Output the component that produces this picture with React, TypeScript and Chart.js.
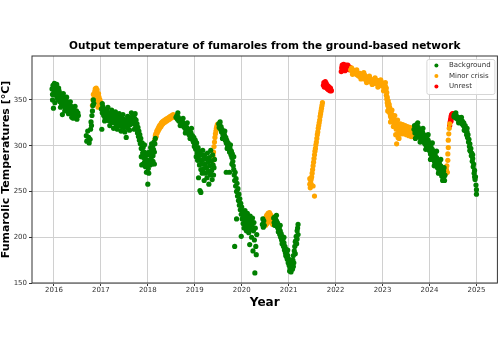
import React, { useEffect, useRef } from "react";
import { Chart, registerables } from "chart.js";

Chart.register(...registerables);

const chartTitle = "Output temperature of fumaroles from the ground-based network";
const xTitle = "Year";
const yTitle = "Fumarolic Temperatures [°C]";
const seriesNames = ["Background", "Minor crisis", "Unrest"];
const seriesColors = ["#008000", "#ffa500", "#ff0000"];
const yearTicks = [2016, 2017, 2018, 2019, 2020, 2021, 2022, 2023, 2024, 2025];
const tempTicks = [150, 200, 250, 300, 350];

// [decimal year, temperature °C]
const background: [number, number][] = [
  [2015.96,362],[2015.97,356],[2015.98,366],[2015.99,341],[2016.0,360],[2016.01,368],[2016.02,358],[2016.03,364],[2016.04,355],[2016.05,366],
  [2016.06,360],[2016.07,352],[2016.08,362],[2016.09,357],[2016.1,350],[2016.11,360],[2016.12,354],[2016.13,348],[2016.14,357],[2016.15,351],
  [2016.16,346],[2016.17,355],[2016.18,334],[2016.19,349],[2016.2,344],[2016.21,353],[2016.22,347],[2016.24,342],[2016.25,350],[2016.26,345],
  [2016.28,340],[2016.29,348],[2016.3,343],[2016.32,338],[2016.33,345],[2016.34,340],[2016.36,336],[2016.37,343],[2016.38,331],[2016.39,338],
  [2016.4,334],[2016.42,340],[2016.43,336],[2016.44,332],[2016.46,337],[2016.47,333],[2016.48,338],[2016.5,334],[2016.51,336],[2016.52,333],
  [2015.97,350],[2016.02,347],[2016.06,367],[2016.1,363],[2016.14,342],[2016.2,357],[2016.23,338],[2016.27,353],[2016.31,335],[2016.35,348],
  [2016.41,330],[2016.45,343],[2016.49,329],
  [2016.69,311],[2016.7,305],[2016.72,316],[2016.74,309],[2016.75,303],[2016.77,307],[2016.78,318],[2016.79,326],[2016.8,322],[2016.81,333],
  [2016.82,338],[2016.83,344],[2016.84,350],[2016.85,346],
  [2017.01,340],[2017.02,318],[2017.03,336],[2017.04,343],[2017.05,338],[2017.06,333],[2017.07,340],[2017.08,335],[2017.09,330],[2017.1,337],
  [2017.11,332],[2017.12,339],[2017.13,328],[2017.14,334],[2017.16,330],[2017.17,336],[2017.18,327],[2017.2,333],[2017.21,329],[2017.22,335],
  [2017.24,326],[2017.25,331],[2017.26,334],[2017.28,325],[2017.29,330],[2017.3,327],[2017.32,333],[2017.33,323],[2017.34,329],[2017.36,325],
  [2017.37,331],[2017.38,322],[2017.4,328],[2017.41,324],[2017.42,330],[2017.44,321],[2017.45,327],[2017.46,323],[2017.48,329],[2017.49,320],
  [2017.5,326],[2017.52,322],[2017.53,328],[2017.54,309],[2017.55,324],[2017.56,320],[2017.58,326],[2017.59,322],[2017.6,328],[2017.62,323],
  [2017.63,329],[2017.64,325],[2017.66,331],[2017.67,327],[2017.68,333],[2017.69,328],[2017.7,324],[2017.72,330],[2017.73,326],[2017.74,322],
  [2017.75,328],[2017.76,318],[2017.77,324],[2017.78,314],[2017.79,320],[2017.8,310],[2017.81,316],[2017.82,306],[2017.83,312],[2017.84,302],
  [2017.85,308],[2017.86,297],[2017.87,279],[2017.88,303],[2017.89,292],[2017.9,298],[2017.91,287],[2017.92,293],[2017.93,282],[2017.94,289],
  [2017.95,277],[2017.96,285],[2017.97,271],[2017.98,280],[2017.99,290],[2018.0,258],[2018.01,275],[2018.02,284],[2018.03,293],[2018.04,281],
  [2018.05,290],[2018.06,298],[2018.07,286],[2018.08,294],[2018.09,280],[2018.1,300],[2018.11,289],[2018.12,296],[2018.13,304],[2018.14,280],
  [2018.14,293],[2018.15,302],[2018.16,308],
  [2017.03,346],[2017.08,327],[2017.15,342],[2017.19,322],[2017.23,339],[2017.27,319],[2017.31,337],[2017.35,318],[2017.39,335],[2017.43,316],
  [2017.47,334],[2017.51,315],[2017.57,332],[2017.61,317],[2017.65,336],[2017.71,318],[2017.73,335],[2017.86,288],[2017.9,280],[2017.93,301],
  [2017.97,292],[2018.02,270],[2018.05,279],[2018.08,302],[2018.11,283],
  [2018.6,331],[2018.62,333],[2018.63,329],[2018.65,331],[2018.66,327],[2018.68,329],[2018.7,325],[2018.71,328],[2018.73,323],[2018.74,326],
  [2018.76,321],[2018.77,324],[2018.79,319],[2018.8,322],[2018.82,317],[2018.83,320],[2018.85,315],[2018.86,318],[2018.88,312],[2018.89,316],
  [2018.91,310],[2018.92,314],[2018.94,307],[2018.95,311],[2018.97,304],[2018.98,309],[2019.0,301],[2019.01,306],[2019.02,296],[2019.03,288],
  [2018.64,336],[2018.69,322],[2018.75,330],[2018.8,314],[2018.84,325],[2018.9,308],[2018.93,319],[2018.99,299],
  [2019.04,303],[2019.05,292],[2019.06,284],[2019.07,298],[2019.08,265],[2019.09,289],[2019.1,279],[2019.11,251],[2019.11,294],[2019.12,284],
  [2019.13,249],[2019.13,274],[2019.14,290],[2019.15,280],[2019.16,270],[2019.17,295],[2019.18,285],[2019.19,275],[2019.2,262],[2019.21,290],
  [2019.22,280],[2019.23,270],[2019.24,286],[2019.25,276],[2019.26,265],[2019.27,292],[2019.28,282],[2019.29,272],[2019.3,258],[2019.31,287],
  [2019.32,278],[2019.33,268],[2019.34,295],[2019.35,283],[2019.36,273],[2019.37,263],[2019.38,290],[2019.39,279],[2019.4,268],[2019.41,276],
  [2019.42,285],
  [2019.51,324],[2019.52,320],[2019.53,322],[2019.55,318],[2019.56,321],[2019.57,315],[2019.58,318],[2019.6,312],[2019.61,315],[2019.62,309],
  [2019.63,312],[2019.65,306],[2019.66,309],[2019.67,271],[2019.67,303],[2019.68,306],[2019.7,300],[2019.71,303],[2019.72,297],[2019.73,300],
  [2019.74,271],[2019.74,293],[2019.75,297],[2019.77,290],[2019.78,294],[2019.79,287],[2019.8,291],[2019.81,283],[2019.82,278],[2019.83,274],
  [2019.54,326],[2019.59,308],[2019.64,316],[2019.69,297],[2019.76,301],[2019.79,280],[2019.83,288],
  [2019.84,268],[2019.85,190],[2019.85,262],[2019.86,271],[2019.87,256],[2019.88,264],[2019.89,220],[2019.89,250],[2019.9,259],[2019.91,245],
  [2019.92,253],[2019.93,240],[2019.94,247],[2019.95,235],[2019.96,242],[2019.97,230],[2019.98,237],[2019.99,201],[2019.99,225],[2020.0,233],
  [2020.01,220],[2020.02,228],[2020.03,215],[2020.04,224],[2020.05,210],[2020.06,219],[2020.07,229],[2020.08,214],[2020.09,222],[2020.1,207],
  [2020.11,218],[2020.12,226],[2020.13,211],[2020.14,220],[2020.15,205],[2020.16,215],[2020.17,192],[2020.18,223],[2020.19,209],[2020.2,218],
  [2020.21,200],[2020.22,213],[2020.23,221],[2020.24,185],[2020.25,207],[2020.26,216],[2020.27,197],[2020.28,161],[2020.29,210],[2020.3,190],
  [2020.31,181],[2020.32,203],
  [2020.44,214],[2020.45,220],[2020.46,211],[2020.47,218],[2020.48,213],
  [2020.68,221],[2020.69,216],[2020.7,222],[2020.71,217],[2020.72,220],[2020.73,214],[2020.74,218],[2020.75,212],[2020.76,216],[2020.77,210],
  [2020.78,213],[2020.79,206],[2020.8,210],[2020.81,203],[2020.82,207],[2020.83,200],[2020.84,204],[2020.85,197],[2020.86,201],[2020.87,194],
  [2020.88,198],[2020.89,190],[2020.9,194],[2020.91,186],[2020.92,190],[2020.93,183],[2020.94,187],[2020.95,179],[2020.96,183],[2020.97,176],
  [2020.98,180],[2020.99,172],[2021.0,176],[2021.01,169],[2021.02,173],[2021.03,166],[2021.04,170],[2021.05,162],[2021.06,167],[2021.07,171],
  [2021.08,165],[2021.09,175],[2021.1,180],[2021.11,172],[2021.12,185],[2021.13,190],[2021.14,182],[2021.15,196],[2021.16,201],[2021.17,193],
  [2021.18,207],[2021.19,210],[2021.2,214],[2021.2,203],
  [2020.7,213],[2020.74,224],[2020.78,206],[2020.82,213],[2020.86,193],[2020.9,200],[2020.94,180],[2020.98,186],[2021.02,163],[2021.06,175],
  [2021.1,168],[2021.14,195],[2021.18,198],
  [2023.67,318],[2023.68,322],[2023.69,314],[2023.7,320],[2023.71,316],[2023.72,323],[2023.73,312],[2023.74,318],[2023.75,314],[2023.76,320],
  [2023.77,310],[2023.78,316],[2023.79,312],[2023.8,318],[2023.81,308],[2023.82,314],[2023.83,310],[2023.84,305],[2023.85,315],[2023.86,309],
  [2023.87,304],[2023.88,312],[2023.89,307],[2023.9,302],[2023.91,310],[2023.92,305],[2023.93,300],[2023.94,308],[2023.95,303],[2023.96,298],
  [2023.97,306],[2023.98,301],[2023.99,295],[2024.0,303],[2024.01,297],[2024.02,291],[2024.03,299],[2024.04,294],[2024.05,288],[2024.06,296],
  [2024.07,290],[2024.08,285],[2024.09,293],[2024.1,287],[2024.11,282],[2024.12,290],[2024.13,284],[2024.14,279],[2024.15,287],[2024.16,281],
  [2024.17,276],[2024.18,284],[2024.19,278],[2024.2,273],[2024.21,281],[2024.22,275],[2024.23,270],[2024.24,278],[2024.25,272],[2024.26,267],
  [2024.27,275],[2024.28,269],[2024.29,264],[2024.3,272],[2024.31,266],[2024.32,262],[2024.33,268],
  [2023.7,308],[2023.75,325],[2023.8,304],[2023.86,319],[2023.92,296],[2023.97,312],[2024.02,285],[2024.06,303],[2024.1,278],[2024.15,294],
  [2024.19,270],[2024.24,285],[2024.28,262],[2024.31,276],
  [2024.52,332],[2024.53,334],[2024.54,331],[2024.55,333],[2024.57,330],[2024.58,332],[2024.6,329],[2024.61,331],[2024.63,327],[2024.64,330],
  [2024.66,326],[2024.67,328],[2024.69,324],[2024.7,327],[2024.72,322],[2024.73,325],[2024.75,320],[2024.76,322],[2024.77,316],[2024.78,319],
  [2024.79,312],[2024.8,315],[2024.81,309],[2024.82,312],[2024.83,304],[2024.84,307],[2024.85,299],[2024.86,302],[2024.87,294],[2024.88,297],
  [2024.89,289],[2024.9,292],[2024.91,283],[2024.92,286],[2024.93,277],[2024.94,280],[2024.95,270],[2024.96,273],[2024.97,263],[2024.98,266],
  [2024.99,257],[2025.0,252],[2025.0,247],
  [2024.56,336],[2024.62,325],[2024.68,331],[2024.74,317],[2024.8,319],[2024.86,295],[2024.92,290],[2024.96,266]
];

const minorCrisis: [number, number][] = [
  [2016.82,344],[2016.83,350],[2016.84,356],[2016.85,345],[2016.86,352],[2016.87,359],[2016.88,362],[2016.89,348],[2016.9,363],[2016.91,356],
  [2016.92,361],[2016.93,350],[2016.94,342],[2016.95,357],[2016.96,353],[2016.97,346],[2016.98,350],[2016.99,343],[2017.0,347],[2017.01,344],
  [2018.15,307],[2018.16,311],[2018.17,313],[2018.18,310],[2018.19,316],[2018.2,314],[2018.21,318],[2018.22,316],[2018.23,320],[2018.24,318],
  [2018.25,322],[2018.26,320],[2018.27,323],[2018.28,321],[2018.29,325],[2018.3,323],[2018.31,326],[2018.32,324],[2018.33,327],[2018.34,325],
  [2018.36,328],[2018.37,326],[2018.39,329],[2018.4,327],[2018.42,330],[2018.43,328],[2018.45,331],[2018.46,329],[2018.48,332],[2018.49,330],
  [2018.51,333],[2018.52,331],[2018.54,334],[2018.55,332],[2018.57,333],[2018.58,331],
  [2019.38,284],[2019.39,289],[2019.4,293],[2019.41,299],[2019.42,304],[2019.43,309],[2019.44,313],[2019.45,316],[2019.46,319],[2019.47,321],
  [2019.48,323],[2019.49,322],[2019.5,324],
  [2020.49,216],[2020.5,221],[2020.51,213],[2020.52,219],[2020.53,224],[2020.54,215],[2020.55,221],[2020.56,226],[2020.57,217],[2020.58,223],
  [2020.59,227],[2020.6,220],[2020.61,225],[2020.62,218],[2020.63,223],[2020.64,216],[2020.65,221],[2020.66,214],[2020.67,219],
  [2021.45,264],[2021.45,258],[2021.46,254],[2021.47,262],[2021.48,264],[2021.48,258],[2021.49,266],[2021.5,270],[2021.51,274],[2021.52,278],
  [2021.52,256],[2021.53,282],[2021.54,286],[2021.55,245],[2021.55,290],[2021.56,294],[2021.57,297],[2021.58,301],[2021.59,304],[2021.6,308],
  [2021.61,312],[2021.62,315],[2021.63,319],[2021.64,322],[2021.65,325],[2021.66,328],[2021.67,332],[2021.68,335],[2021.69,338],[2021.7,341],
  [2021.71,344],[2021.72,347],
  [2022.32,383],[2022.34,385],[2022.35,381],[2022.37,383],[2022.38,380],[2022.4,382],[2022.41,379],[2022.43,381],[2022.44,378],[2022.46,380],
  [2022.47,377],[2022.49,379],[2022.5,376],[2022.52,379],[2022.53,375],[2022.55,378],[2022.56,374],[2022.58,377],[2022.59,376],[2022.61,373],
  [2022.62,377],[2022.64,374],[2022.65,372],[2022.67,375],[2022.68,371],[2022.7,374],[2022.71,372],[2022.73,370],[2022.74,373],[2022.76,371],
  [2022.77,369],[2022.79,372],[2022.8,370],[2022.82,368],[2022.83,371],[2022.85,369],[2022.86,372],[2022.88,368],[2022.89,370],[2022.91,367],
  [2022.92,371],[2022.94,369],[2022.95,366],[2022.97,370],[2022.98,367],[2023.0,365],[2023.01,368],[2023.03,364],[2023.04,367],[2023.05,362],
  [2023.06,365],[2023.07,360],[2023.08,363],
  [2022.36,378],[2022.45,383],[2022.54,373],[2022.6,380],[2022.66,369],[2022.72,376],[2022.78,367],[2022.84,374],[2022.9,364],[2022.96,372],
  [2023.02,360],[2023.06,369],
  [2023.08,355],[2023.09,351],[2023.1,347],[2023.1,353],[2023.11,344],[2023.12,349],[2023.13,340],[2023.13,346],[2023.14,337],[2023.15,342],
  [2023.16,335],[2023.16,339],[2023.17,332],[2023.18,336],[2023.19,330],[2023.2,334],[2023.21,328],[2023.22,332],[2023.23,326],[2023.24,330],
  [2023.25,324],[2023.26,328],[2023.27,322],[2023.28,326],[2023.29,318],[2023.3,302],[2023.3,324],[2023.31,312],[2023.32,320],[2023.33,309],
  [2023.09,358],[2023.11,338],[2023.14,345],[2023.17,326],[2023.2,339],[2023.23,321],[2023.26,333],[2023.28,312],[2023.32,328],[2023.35,308],
  [2023.34,317],[2023.35,322],[2023.36,314],[2023.37,319],[2023.38,324],[2023.39,316],[2023.4,321],[2023.41,313],[2023.42,318],[2023.43,323],
  [2023.44,315],[2023.45,320],[2023.46,313],[2023.47,318],[2023.48,322],[2023.49,315],[2023.5,319],[2023.51,312],[2023.52,317],[2023.53,321],
  [2023.54,314],[2023.55,318],[2023.56,311],[2023.57,316],[2023.58,320],[2023.59,313],[2023.6,317],[2023.61,310],[2023.62,315],[2023.63,319],
  [2023.64,312],[2023.65,316],[2023.66,310],[2023.67,314],
  [2024.33,272],[2024.34,276],[2024.35,270],[2024.36,274],[2024.37,278],[2024.38,271],[2024.39,284],[2024.39,291],[2024.4,298],[2024.4,306],
  [2024.41,313],[2024.42,319],[2024.43,324]
];

const unrest: [number, number][] = [
  [2021.74,366],[2021.75,369],[2021.76,364],[2021.77,367],[2021.78,370],[2021.79,365],[2021.8,368],[2021.81,363],[2021.82,366],[2021.83,362],
  [2021.84,365],[2021.85,361],[2021.86,364],[2021.87,362],[2021.88,360],[2021.89,363],[2021.9,361],[2021.91,360],
  [2022.12,381],[2022.13,385],[2022.14,388],[2022.15,383],[2022.16,386],[2022.17,389],[2022.18,384],[2022.19,387],[2022.2,382],[2022.21,386],
  [2022.22,388],[2022.23,384],[2022.24,387],[2022.25,385],[2022.26,388],[2022.27,384],[2022.28,386],[2022.29,383],[2022.3,386],[2022.31,384],
  [2024.43,322],[2024.44,326],[2024.45,329],[2024.46,332],[2024.46,327],[2024.47,334],[2024.48,331],[2024.49,335],[2024.5,333],[2024.51,335]
];

const FONT = "DejaVu Sans";

const framePlugin = {
  id: "frame",
  afterDatasetsDraw(chart: any) {
    const { ctx, chartArea } = chart;
    ctx.save();
    ctx.strokeStyle = "#333";
    ctx.lineWidth = 1;
    ctx.strokeRect(chartArea.left, chartArea.top, chartArea.right - chartArea.left, chartArea.bottom - chartArea.top);
    ctx.restore();
  },
};

const legendPlugin = {
  id: "insideLegend",
  afterDraw(chart: any) {
    const { ctx, chartArea } = chart;
    const w = 68, h = 35;
    const left = chartArea.right - 3 - w;
    const top = chartArea.top + 3;
    ctx.save();
    ctx.beginPath();
    (ctx as any).roundRect(left + 0.5, top + 0.5, w, h, 2);
    ctx.fillStyle = "rgba(255,255,255,0.85)";
    ctx.fill();
    ctx.strokeStyle = "#d6d6d6";
    ctx.lineWidth = 1;
    ctx.stroke();
    ctx.font = `7px "${FONT}"`;
    ctx.textBaseline = "middle";
    ctx.textAlign = "left";
    seriesNames.forEach((name, i) => {
      const cy = top + 6.5 + i * 10.5;
      ctx.beginPath();
      ctx.arc(left + 10, cy, 2, 0, Math.PI * 2);
      ctx.fillStyle = seriesColors[i];
      ctx.fill();
      ctx.fillStyle = "#333";
      ctx.fillText(name, left + 22.5, cy);
    });
    ctx.restore();
  },
};

export default function App() {
  const ref = useRef<HTMLCanvasElement | null>(null);
  useEffect(() => {
    if (!ref.current) return;
    const series = [background, minorCrisis, unrest];
    const chart = new Chart(ref.current, {
      type: "scatter",
      data: {
        datasets: series.map((s, i) => ({
          label: seriesNames[i],
          data: s.map(([x, y]) => ({ x, y })),
          backgroundColor: seriesColors[i],
          borderColor: seriesColors[i],
          borderWidth: 0,
          pointRadius: 2.6,
          pointHoverRadius: 2.6,
        })),
      },
      options: {
        responsive: false,
        animation: false,
        events: [],
        layout: { padding: { left: 0, right: 0.5, top: 40.4, bottom: 36 } },
        plugins: {
          legend: { display: false },
          tooltip: { enabled: false },
          title: {
            display: true,
            text: chartTitle,
            fullSize: false,
            color: "#000",
            font: { family: FONT, size: 10.5, weight: "bold" },
            padding: { top: 0, bottom: 3 },
          },
        },
        scales: {
          x: {
            type: "linear",
            min: 2015.533,
            max: 2025.446,
            afterBuildTicks: (s: any) => { s.ticks = yearTicks.map((v) => ({ value: v })); },
            afterFit: (s: any) => { s.height = 31; },
            ticks: {
              autoSkip: false,
              maxRotation: 0,
              padding: 0,
              color: "#333",
              font: { family: FONT, size: 7 },
              callback: (v: any) => String(v),
            },
            grid: { color: "#d0d0d0", lineWidth: 1, tickLength: 3, tickColor: "#333" },
            border: { display: false },
            title: {
              display: true,
              text: xTitle,
              color: "#000",
              font: { family: FONT, size: 12, weight: "bold" },
              padding: { top: 0, bottom: 4 },
            },
          },
          y: {
            type: "linear",
            min: 150,
            max: 398,
            afterBuildTicks: (s: any) => { s.ticks = tempTicks.map((v) => ({ value: v })); },
            afterFit: (s: any) => { s.width = 32; },
            ticks: {
              padding: 2,
              color: "#333",
              font: { family: FONT, size: 7 },
              callback: (v: any) => String(v),
            },
            grid: { color: "#d0d0d0", lineWidth: 1, tickLength: 3, tickColor: "#333" },
            border: { display: false },
            title: {
              display: true,
              text: yTitle,
              color: "#000",
              font: { family: FONT, size: 11, weight: "bold" },
              padding: { top: 0, bottom: 0 },
            },
          },
        },
      },
      plugins: [framePlugin, legendPlugin],
    } as any);
    return () => chart.destroy();
  }, []);
  return (
    <div style={{ position: "fixed", left: 0, top: 0, width: 500, height: 350, background: "#fff" }}>
      <canvas ref={ref} width={500} height={350} style={{ display: "block" }} />
    </div>
  );
}
